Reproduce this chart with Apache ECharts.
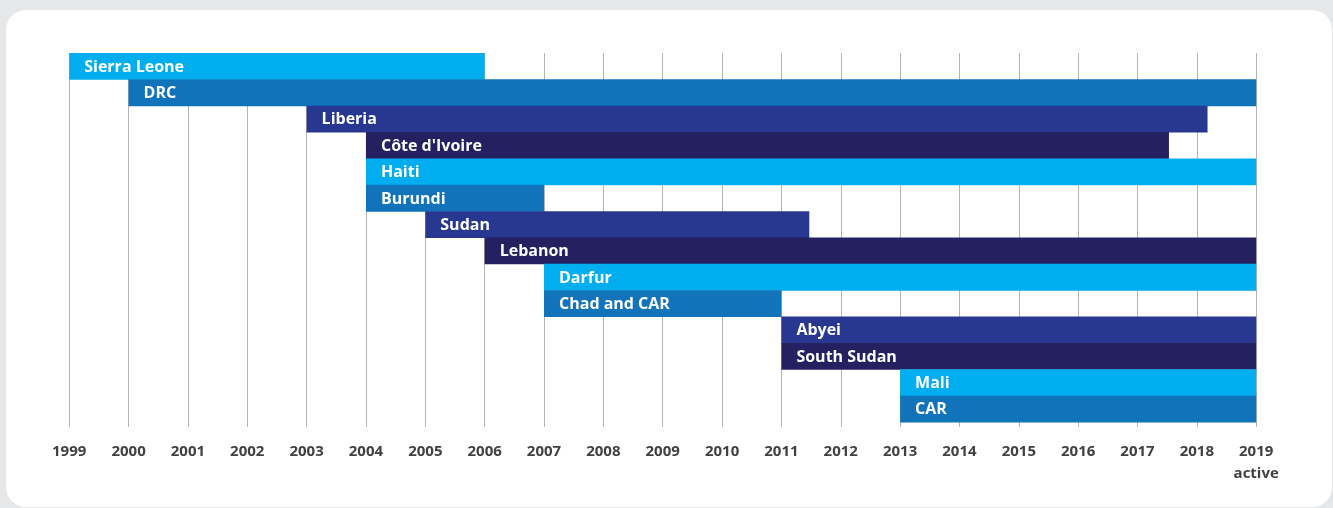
<!DOCTYPE html>
<html>
<head>
<meta charset="utf-8">
<script src="https://cdn.jsdelivr.net/npm/echarts@6/dist/echarts.min.js"></script>
<style>
  html, body { margin: 0; padding: 0; background: #e6e7e9; }
  #panel { position: absolute; left: 6px; top: 10px; width: 1326px; height: 497px; background: #ffffff; border-radius: 20px; }
  #main { position: absolute; left: 0; top: 0; width: 1333px; height: 508px; }
</style>
</head>
<body>
<div id="panel"></div>
<div id="main"></div>
<script>
// missions, in row order (top to bottom)
var missions = ['Sierra Leone', 'DRC', 'Liberia', "Côte d'Ivoire", 'Haiti', 'Burundi', 'Sudan',
  'Lebanon', 'Darfur', 'Chad and CAR', 'Abyei', 'South Sudan', 'Mali', 'CAR'];
var startYears = [1999, 2000, 2003, 2004, 2004, 2004, 2005, 2006, 2007, 2007, 2011, 2011, 2013, 2013];
var endYears = [2006, 2019, 2018.18, 2017.53, 2019, 2007, 2011.47, 2019, 2019, 2011, 2019, 2019, 2019, 2019];
var yearTicks = [1999, 2000, 2001, 2002, 2003, 2004, 2005, 2006, 2007, 2008, 2009, 2010,
  2011, 2012, 2013, 2014, 2015, 2016, 2017, 2018, 2019];
var lastTickNote = 'active';

var barColors = ['#00aeef', '#1174bb', '#283891', '#252161'];

var chartDom = document.getElementById('main');
var myChart = echarts.init(chartDom);

var seriesData = missions.map(function (name, i) {
  return [i, startYears[i], endYears[i]];
});

var option = {
  animation: false,
  grid: { left: 69.2, right: 76.8, top: 53, bottom: 81 },
  xAxis: {
    type: 'value',
    min: yearTicks[0],
    max: yearTicks[yearTicks.length - 1],
    interval: 1,
    axisLine: { show: false },
    axisTick: { show: false },
    splitLine: { show: true, lineStyle: { color: '#b5b5b8', width: 1 } },
    axisLabel: {
      margin: 14,
      color: '#414042',
      fontFamily: 'Open Sans',
      fontWeight: 'bold',
      fontSize: 15,
      lineHeight: 22,
      formatter: function (v) {
        if (v === yearTicks[yearTicks.length - 1]) return v + '\n' + lastTickNote;
        return String(v);
      }
    }
  },
  yAxis: {
    type: 'value',
    inverse: true,
    min: 0,
    max: 14.19, // grid lines run a bit below the last row
    show: false,
    splitLine: { show: false }
  },
  series: [{
    type: 'custom',
    data: seriesData,
    encode: { x: [1, 2], y: 0 },
    renderItem: function (params, api) {
      var i = params.dataIndex;
      var row = api.value(0);
      var p0 = api.coord([api.value(1), row]);
      var p1 = api.coord([api.value(2), row + 1]);
      return {
        type: 'group',
        children: [
          {
            type: 'rect',
            shape: { x: p0[0], y: p0[1], width: p1[0] - p0[0], height: p1[1] - p0[1] + 0.5 },
            style: { fill: barColors[i % 4] }
          },
          {
            type: 'text',
            x: p0[0] + 15,
            y: (p0[1] + p1[1]) / 2 + 1,
            style: {
              text: missions[i],
              fill: '#ffffff',
              font: 'bold 16px "Open Sans"',
              verticalAlign: 'middle',
              align: 'left'
            }
          }
        ]
      };
    }
  }]
};

myChart.setOption(option);
</script>
</body>
</html>
